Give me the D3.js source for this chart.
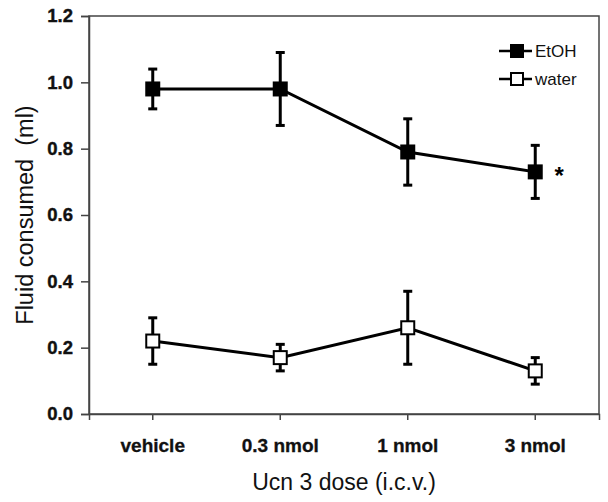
<!DOCTYPE html>
<html><head><meta charset="utf-8">
<script src="https://cdn.jsdelivr.net/npm/d3@7"></script>
<style>body{margin:0;background:#fff}svg{display:block}</style>
</head><body>
<script>
const categories = ["vehicle", "0.3 nmol", "1 nmol", "3 nmol"];
const etohMean = [0.98, 0.98, 0.79, 0.73];
const etohErr  = [0.06, 0.11, 0.10, 0.08];
const waterMean = [0.22, 0.17, 0.26, 0.13];
const waterErr  = [0.07, 0.04, 0.11, 0.04];
const yTicks = [0.0, 0.2, 0.4, 0.6, 0.8, 1.0, 1.2];
const seriesNames = ["EtOH", "water"];

const W = 608, H = 502;
const m = {left: 89, right: 9, top: 16, bottom: 88};
const svg = d3.select("body").append("svg").attr("width", W).attr("height", H);
const x = d3.scaleBand().domain(categories).range([m.left, W - m.right]);
const y = d3.scaleLinear().domain([0, 1.2]).range([H - m.bottom, m.top]);
const font = "'Liberation Sans', Arial, sans-serif";

// frame
svg.append("rect").attr("x", m.left).attr("y", m.top)
  .attr("width", W - m.right - m.left).attr("height", H - m.bottom - m.top)
  .attr("fill", "none").attr("stroke", "#444").attr("stroke-width", 1.5);

// y axis
const yAx = svg.append("g").attr("transform", `translate(${m.left},0)`)
  .call(d3.axisLeft(y).tickValues(yTicks).tickFormat(d3.format(".1f")).tickSize(8).tickPadding(8));
yAx.select(".domain").attr("stroke", "#444").attr("stroke-width", 1.5);
yAx.selectAll(".tick line").attr("stroke", "#444").attr("stroke-width", 1.5);
yAx.selectAll("text").attr("font-family", font).attr("font-weight", "bold").attr("font-size", 18.5)
  .attr("fill", "#111").attr("stroke", "#111").attr("stroke-width", 0.4);

// x axis
const xAx = svg.append("g").attr("transform", `translate(0,${H - m.bottom})`)
  .call(d3.axisBottom(x).tickSize(6).tickPadding(19));
xAx.select(".domain").attr("stroke", "#444").attr("stroke-width", 1.5);
xAx.selectAll(".tick line").attr("stroke", "#444").attr("stroke-width", 1.5);
xAx.selectAll("text").attr("font-family", font).attr("font-weight", "bold").attr("font-size", 19)
  .attr("fill", "#111").attr("stroke", "#111").attr("stroke-width", 0.3);

// axis titles
svg.append("text").attr("transform", `translate(33,${(m.top + H - m.bottom) / 2}) rotate(-90)`)
  .attr("text-anchor", "middle").attr("font-family", font).attr("font-size", 23.5).attr("fill", "#111")
  .attr("xml:space", "preserve").text("Fluid consumed  (ml)");
svg.append("text").attr("x", (m.left + W - m.right) / 2).attr("y", 490)
  .attr("text-anchor", "middle").attr("font-family", font).attr("font-size", 23).attr("fill", "#111")
  .text("Ucn 3 dose (i.c.v.)");

const cx = c => x(c) + x.bandwidth() / 2;
function drawSeries(means, errs, fill) {
  const data = categories.map((c, i) => ({c, v: means[i], e: errs[i]}));
  const g = svg.append("g");
  g.append("path").datum(data)
    .attr("d", d3.line().x(d => cx(d.c)).y(d => y(d.v)))
    .attr("fill", "none").attr("stroke", "#000").attr("stroke-width", 3);
  const eb = g.selectAll(".eb").data(data).enter().append("g");
  eb.append("line").attr("x1", d => cx(d.c)).attr("x2", d => cx(d.c))
    .attr("y1", d => y(d.v - d.e)).attr("y2", d => y(d.v + d.e))
    .attr("stroke", "#000").attr("stroke-width", 3);
  [-1, 1].forEach(s => {
    eb.append("line").attr("x1", d => cx(d.c) - 4.5).attr("x2", d => cx(d.c) + 4.5)
      .attr("y1", d => y(d.v + s * d.e)).attr("y2", d => y(d.v + s * d.e))
      .attr("stroke", "#000").attr("stroke-width", 3);
  });
  g.selectAll(".mk").data(data).enter().append("rect")
    .attr("x", d => cx(d.c) - 6.5).attr("y", d => y(d.v) - 6.5)
    .attr("width", 13).attr("height", 13)
    .attr("fill", fill).attr("stroke", "#000").attr("stroke-width", 2);
}
drawSeries(etohMean, etohErr, "#000");
drawSeries(waterMean, waterErr, "#fff");

// significance asterisk
svg.append("text").attr("x", cx(categories[3]) + 24).attr("y", y(etohMean[3]) + 12)
  .attr("text-anchor", "middle").attr("font-family", font).attr("font-weight", "bold")
  .attr("font-size", 24).attr("fill", "#000").text("*");

// legend
const leg = svg.append("g");
seriesNames.forEach((name, i) => {
  const ly = 51 + i * 28;
  leg.append("line").attr("x1", 499).attr("x2", 532).attr("y1", ly).attr("y2", ly)
    .attr("stroke", "#000").attr("stroke-width", 2.5);
  leg.append("rect").attr("x", 511).attr("y", ly - 6).attr("width", 12).attr("height", 12)
    .attr("fill", i === 0 ? "#000" : "#fff").attr("stroke", "#000").attr("stroke-width", 2);
  leg.append("text").attr("x", 535).attr("y", ly + 6).attr("font-family", font)
    .attr("font-size", 17).attr("fill", "#111").text(name);
});
</script>
</body></html>
